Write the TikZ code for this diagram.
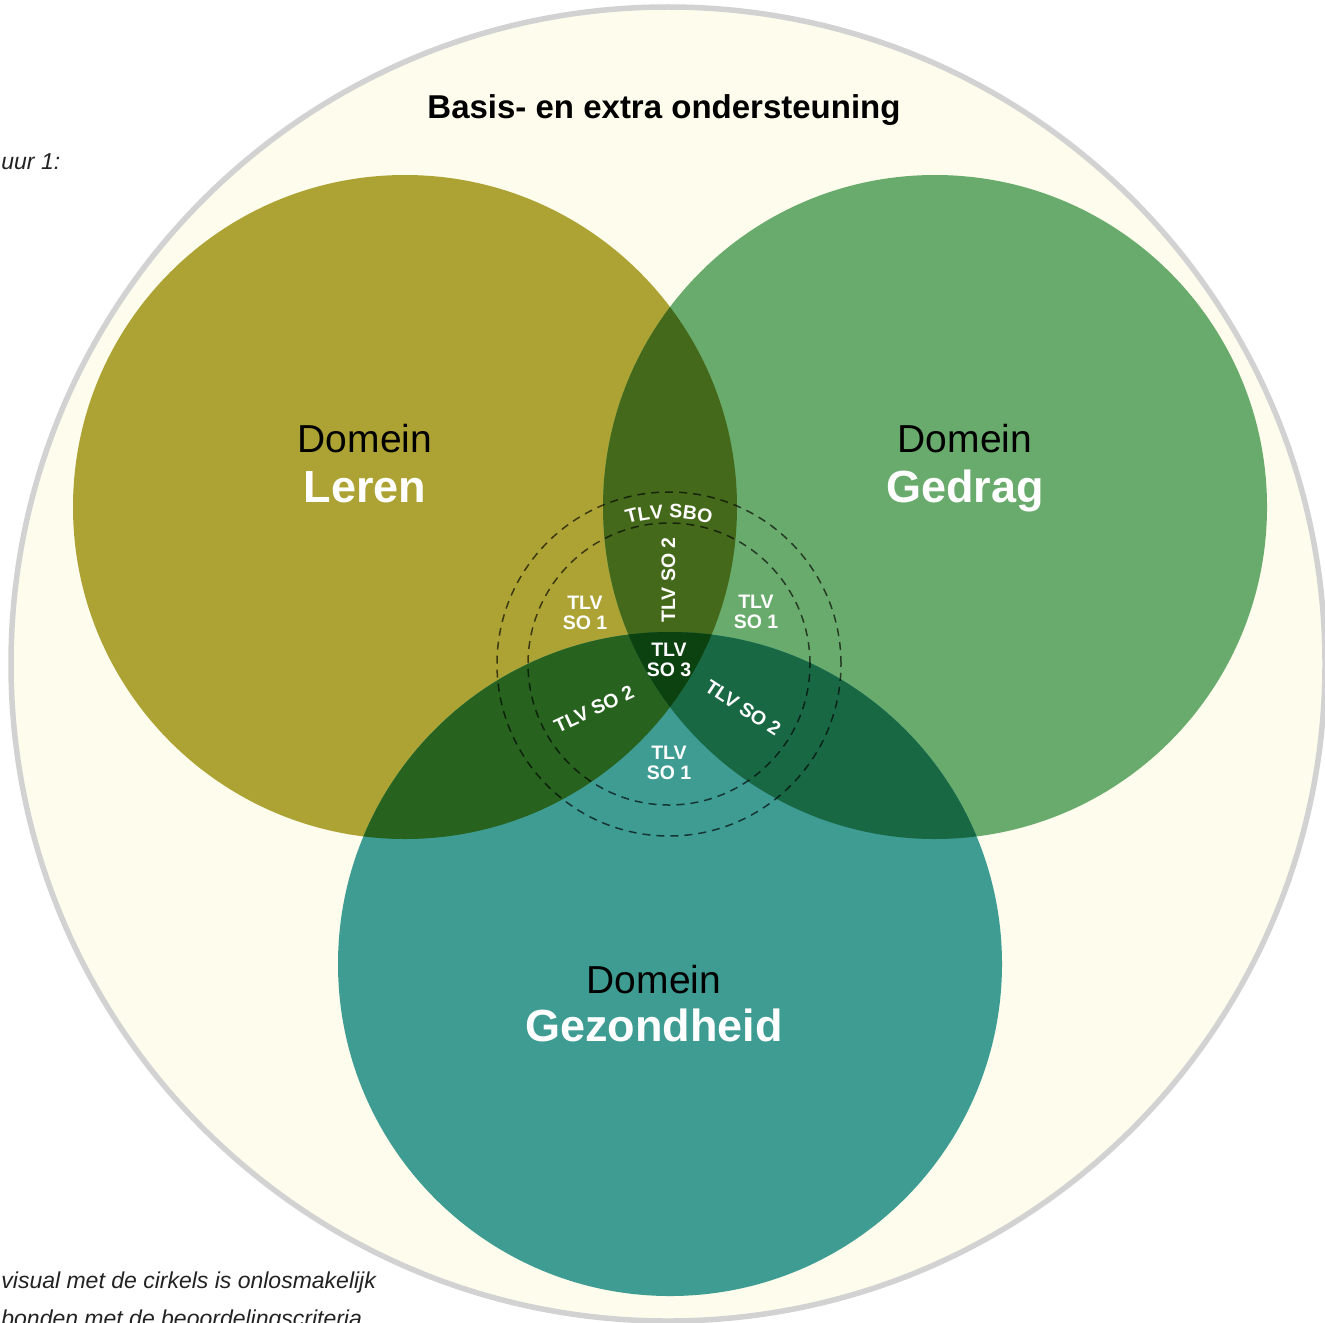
\documentclass[tikz,border=0pt]{standalone}
\usepackage{fontspec}
\setmainfont{Liberation Sans}
\usetikzlibrary{decorations.text}

\definecolor{cream}{HTML}{FEFCEC}
\definecolor{rimgray}{HTML}{D2D2D2}
\definecolor{lerencol}{HTML}{ADA334}
\definecolor{gedragcol}{HTML}{69AB6C}
\definecolor{gezondcol}{HTML}{3E9C93}
\definecolor{lgcol}{HTML}{45691A}
\definecolor{lzcol}{HTML}{27621E}
\definecolor{gzcol}{HTML}{196844}
\definecolor{allcol}{HTML}{0C4210}
\definecolor{notegray}{HTML}{222222}

\tikzset{
    domein/.style={anchor=base, inner sep=0pt, font=\fontsize{19.5}{20}\selectfont},
    domeinnaam/.style={anchor=base, inner sep=0pt, text=white, font=\fontsize{22.5}{24}\selectfont\bfseries},
    tlv/.style={align=center, inner sep=0pt, text=white, font=\fontsize{9.75}{10}\selectfont\bfseries},
    ring/.style={black, opacity=0.65, line width=0.75pt, dash pattern=on 4pt off 3pt},
    note/.style={anchor=base west, inner sep=0pt, text=notegray, font=\fontsize{11.5}{14}\selectfont\itshape}
}

\begin{document}
\begin{tikzpicture}[x=0.5pt, y=0.5pt]
    \useasboundingbox (0,0) rectangle (1325,-1322);
    \coordinate (mid) at (668,-664);
    \coordinate (leren) at (405,-507);
    \coordinate (gedrag) at (935,-507);
    \coordinate (gezond) at (670,-964);
    \coordinate (kern) at (669,-664);

    \draw[rimgray, fill=cream, line width=2.75pt] (mid) circle (657);

    \fill[lerencol] (leren) circle (332);
    \fill[gedragcol] (gedrag) circle (332);
    \fill[gezondcol] (gezond) circle (332);
    \begin{scope}
        \clip (leren) circle (332);
        \fill[lgcol] (gedrag) circle (332);
        \fill[lzcol] (gezond) circle (332);
    \end{scope}
    \begin{scope}
        \clip (gedrag) circle (332);
        \fill[gzcol] (gezond) circle (332);
    \end{scope}
    \begin{scope}
        \clip (leren) circle (332);
        \clip (gedrag) circle (332);
        \fill[allcol] (gezond) circle (332);
    \end{scope}

    \draw[ring] (kern) circle (172);
    \draw[ring] (kern) circle (141);

    \node[anchor=base, inner sep=0pt, font=\fontsize{16.5}{18}\selectfont\bfseries] (titel) at (664,-119) {Basis- en extra ondersteuning};
    \node[note] (figuur) at (1,-169) {uur 1:};
    \node[note] (uitleg1) at (1,-1288) {visual met de cirkels is onlosmakelijk};
    \node[note] (uitleg2) at (1,-1326) {bonden met de beoordelingscriteria};

    \node[domein] (lerenkop) at (365,-452) {Domein};
    \node[domeinnaam] (lerennaam) at (365,-502) {Leren};
    \node[domein] (gedragkop) at (965,-452) {Domein};
    \node[domeinnaam] (gedragnaam) at (965,-502) {Gedrag};
    \node[domein] (gezondkop) at (654,-993) {Domein};
    \node[domeinnaam] (gezondnaam) at (654,-1041) {Gezondheid};

    \path[decorate, decoration={text along path, text align=center,
        text={|\fontsize{9.75}{10}\selectfont\bfseries\color{white}|TLV SBO}}]
        ([shift={(120:146)}]kern) arc (120:60:146);
    \node[tlv, rotate=90] (boven) at (668.5,-580) {TLV SO 2};
    \node[tlv] (linksso1) at (585,-613) {TLV\\SO 1};
    \node[tlv] (rechtsso1) at (756,-612) {TLV\\SO 1};
    \node[tlv] (onderso1) at (669,-763) {TLV\\SO 1};
    \node[tlv] (midso3) at (669,-660) {TLV\\SO 3};
    \node[tlv, rotate=25] (linksso2) at (594,-709) {TLV SO 2};
    \node[tlv, rotate=-33] (rechtsso2) at (743,-708) {TLV SO 2};
\end{tikzpicture}
\end{document}
